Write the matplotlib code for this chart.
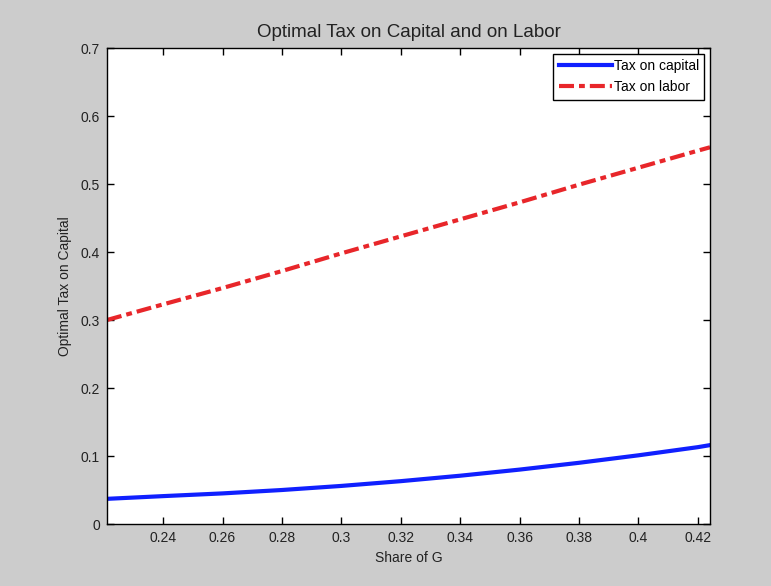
import matplotlib.pyplot as plt

plt.rcParams['font.family'] = ['Liberation Sans', 'DejaVu Sans']

# share of G and the two optimal tax curves
share_g = [0.2211, 0.24, 0.26, 0.28, 0.30, 0.32, 0.34, 0.36, 0.38, 0.40, 0.42, 0.4241]
tax_capital = [0.037, 0.041, 0.045, 0.050, 0.056, 0.063, 0.071, 0.080, 0.090, 0.101, 0.113, 0.116]
tax_labor = [0.300, 0.323, 0.347, 0.372, 0.398, 0.423, 0.448, 0.473, 0.499, 0.524, 0.549, 0.554]

xticks = [0.24, 0.26, 0.28, 0.30, 0.32, 0.34, 0.36, 0.38, 0.40, 0.42]
xtick_labels = ['0.24', '0.26', '0.28', '0.3', '0.32', '0.34', '0.36', '0.38', '0.4', '0.42']
yticks = [0, 0.1, 0.2, 0.3, 0.4, 0.5, 0.6, 0.7]
ytick_labels = ['0', '0.1', '0.2', '0.3', '0.4', '0.5', '0.6', '0.7']

fig = plt.figure(figsize=(7.71, 5.86), dpi=100, facecolor='#cccccc')
ax = fig.add_axes([107 / 771, 1 - 524 / 586, (710 - 107) / 771, (524 - 48) / 586])

ax.plot(share_g, tax_capital, color='#1020ff', linewidth=3, label='Tax on capital')
ax.plot(share_g, tax_labor, color='#e8262a', linewidth=3, linestyle=(0, (3.6, 1.2, 1.4, 1.2)),
        label='Tax on labor')

ax.set_xlim(share_g[0], share_g[-1])
ax.set_ylim(0, 0.7)
ax.set_xticks(xticks)
ax.set_xticklabels(xtick_labels)
ax.set_yticks(yticks)
ax.set_yticklabels(ytick_labels)
ax.tick_params(direction='in', top=True, right=True, length=5, width=1, labelsize=10,
               labelcolor='#222222', pad=5)
for s in ax.spines.values():
    s.set_linewidth(1)

ax.set_title('Optimal Tax on Capital and on Labor', fontsize=13.5, color='#222222', pad=8)
ax.set_xlabel('Share of G', fontsize=10, color='#222222', labelpad=4)
ax.set_ylabel('Optimal Tax on Capital', fontsize=10, color='#222222', labelpad=6)

leg = ax.legend(loc='upper right', fontsize=10, fancybox=False, edgecolor='black',
                framealpha=1, handlelength=3.8, handletextpad=0.15, borderaxespad=0.4,
                borderpad=0.4)
leg.get_frame().set_linewidth(1)

fig.savefig('out.png', dpi=100, facecolor=fig.get_facecolor())
